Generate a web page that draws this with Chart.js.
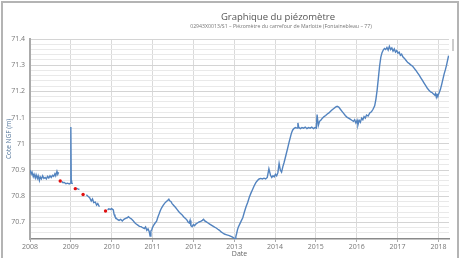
<!DOCTYPE html>
<html lang="fr">
<head>
<meta charset="utf-8">
<title>Graphique du piézomètre</title>
<script src="https://cdn.jsdelivr.net/npm/chart.js@4.4.1/dist/chart.umd.min.js"></script>
<style>
  html, body { margin: 0; padding: 0; background: #fff; }
  #wrap { position: relative; width: 464px; height: 258px; overflow: hidden; font-family: "Open Sans", sans-serif; }
  #cadre { position: absolute; left: 1px; top: 1px; width: 454px; height: 270px; border: 2px solid #b4b4b4; pointer-events: none; }
  #titre { position: absolute; left: 128px; width: 300px; top: 10px; text-align: center; font-size: 9.5px; color: #555; }
  #sous-titre { position: absolute; left: 128px; width: 306px; top: 22px; text-align: center; font-size: 5.2px; color: #777; }
  #barre { position: absolute; left: 452px; top: 39px; width: 2px; height: 12px; background: #ccc; }
  canvas { position: absolute; left: 0; top: 0; }
</style>
</head>
<body>
<div id="wrap">
  <canvas id="piezo" width="464" height="258"></canvas>
  <div id="titre">Graphique du piézomètre</div>
  <div id="sous-titre">02943X0013/S1 – Piézomètre du carrefour de Marlotte (Fontainebleau – 77)</div>
  <div id="barre"></div>
  <div id="cadre"></div>
</div>
<script>
// Chroniques (année décimale / cote NGF en m)
const annees = [
  2008.00, 2008.03, 2008.05, 2008.08, 2008.10, 2008.13, 2008.15, 2008.18, 2008.20, 2008.23,
  2008.25, 2008.28, 2008.31, 2008.34, 2008.37, 2008.40, 2008.43, 2008.46, 2008.49, 2008.52,
  2008.55, 2008.58, 2008.61, 2008.63, 2008.66, 2008.68, 2008.70, 2008.73,
  2008.78, 2008.81, 2008.84, 2008.88, 2008.92, 2008.96, 2008.99, 2009.00, 2009.01, 2009.02, 2009.05, 2009.08,
  2009.14, 2009.17, 2009.21, 2009.25,
  2009.38, 2009.42, 2009.46, 2009.50, 2009.53, 2009.56, 2009.60, 2009.63, 2009.66, 2009.70, 2009.75,
  2009.90, 2009.93, 2009.97, 2010.00, 2010.04, 2010.06, 2010.08, 2010.11, 2010.14, 2010.18,
  2010.22, 2010.26, 2010.30, 2010.34, 2010.38, 2010.41, 2010.44, 2010.48, 2010.52, 2010.56,
  2010.60, 2010.64, 2010.68, 2010.72, 2010.76, 2010.80, 2010.83, 2010.86, 2010.89, 2010.92,
  2010.94, 2010.96, 2010.98, 2011.00, 2011.03, 2011.06, 2011.10, 2011.13, 2011.16, 2011.19,
  2011.22, 2011.26, 2011.30, 2011.34, 2011.37, 2011.40, 2011.42, 2011.45, 2011.48, 2011.52,
  2011.56, 2011.60, 2011.64, 2011.68, 2011.72, 2011.76, 2011.80, 2011.84, 2011.87, 2011.90,
  2011.92, 2011.94, 2011.97, 2012.00, 2012.03, 2012.06, 2012.10, 2012.14, 2012.18, 2012.22,
  2012.25, 2012.28, 2012.32, 2012.36, 2012.40, 2012.44, 2012.48, 2012.52, 2012.56, 2012.60,
  2012.64, 2012.68, 2012.72, 2012.76, 2012.80, 2012.84, 2012.88, 2012.92, 2012.96, 2013.00,
  2013.02, 2013.04, 2013.06, 2013.08, 2013.10, 2013.13, 2013.17, 2013.21, 2013.25, 2013.29,
  2013.33, 2013.37, 2013.41, 2013.45, 2013.49, 2013.53, 2013.57, 2013.61, 2013.65, 2013.69,
  2013.73, 2013.77, 2013.81, 2013.85, 2013.89, 2013.92, 2013.95, 2013.98, 2014.01, 2014.04,
  2014.07, 2014.10, 2014.13, 2014.16, 2014.19, 2014.22, 2014.25, 2014.28, 2014.31, 2014.34,
  2014.37, 2014.40, 2014.43, 2014.46, 2014.50, 2014.54, 2014.56, 2014.58, 2014.62, 2014.66,
  2014.70, 2014.74, 2014.78, 2014.82, 2014.86, 2014.90, 2014.94, 2014.98, 2015.01, 2015.03,
  2015.06, 2015.09, 2015.12, 2015.16, 2015.20, 2015.24, 2015.28, 2015.32, 2015.36, 2015.40,
  2015.44, 2015.48, 2015.52, 2015.56, 2015.60, 2015.64, 2015.68, 2015.72, 2015.76, 2015.80,
  2015.84, 2015.88, 2015.92, 2015.95, 2015.98, 2016.01, 2016.03, 2016.06, 2016.09, 2016.12,
  2016.15, 2016.18, 2016.21, 2016.24, 2016.28, 2016.32, 2016.36, 2016.40, 2016.44, 2016.47,
  2016.50, 2016.53, 2016.56, 2016.59, 2016.62, 2016.65, 2016.68, 2016.71, 2016.74, 2016.77,
  2016.80, 2016.83, 2016.86, 2016.89, 2016.92, 2016.95, 2016.98, 2017.01, 2017.04, 2017.07,
  2017.10, 2017.13, 2017.17, 2017.21, 2017.25, 2017.29, 2017.33, 2017.37, 2017.41, 2017.45,
  2017.49, 2017.53, 2017.57, 2017.61, 2017.65, 2017.69, 2017.73, 2017.77, 2017.81, 2017.85,
  2017.88, 2017.91, 2017.93, 2017.95, 2017.97, 2017.99, 2018.02, 2018.05, 2018.08, 2018.11,
  2018.14, 2018.17, 2018.20, 2018.23, 2018.25
];
const niveaux = [
  70.900, 70.885, 70.892, 70.875, 70.884, 70.870, 70.882, 70.868, 70.878, 70.860,
  70.874, 70.866, 70.878, 70.868, 70.872, 70.866, 70.876, 70.870, 70.878, 70.872,
  70.880, 70.876, 70.886, 70.878, 70.895, 70.884, 70.892, null,
  70.856, 70.852, 70.853, 70.848, 70.850, 70.847, 70.850, 71.064, 70.860, 70.850, 70.848, null,
  70.830, 70.828, 70.826, null,
  70.806, 70.800, 70.795, 70.782, 70.790, 70.776, 70.778, 70.766, 70.772, 70.760, null,
  70.748, 70.752, 70.750, 70.753, 70.748, 70.730, 70.723, 70.716, 70.712, 70.708,
  70.712, 70.706, 70.712, 70.716, 70.718, 70.722, 70.718, 70.714, 70.708, 70.700,
  70.694, 70.690, 70.685, 70.684, 70.680, 70.677, 70.683, 70.670, 70.676, 70.665,
  70.648, 70.668, 70.672, 70.681, 70.690, 70.697, 70.705, 70.720, 70.732, 70.745,
  70.755, 70.765, 70.774, 70.780, 70.784, 70.789, 70.783, 70.780, 70.772, 70.765,
  70.758, 70.750, 70.742, 70.735, 70.730, 70.722, 70.716, 70.710, 70.702, 70.698,
  70.708, 70.688, 70.684, 70.692, 70.688, 70.694, 70.698, 70.702, 70.704, 70.708,
  70.712, 70.706, 70.702, 70.698, 70.694, 70.690, 70.686, 70.682, 70.679, 70.674,
  70.670, 70.664, 70.660, 70.656, 70.654, 70.652, 70.650, 70.647, 70.644, 70.640,
  70.636, 70.646, 70.658, 70.672, 70.682, 70.692, 70.705, 70.718, 70.740, 70.760,
  70.776, 70.796, 70.812, 70.826, 70.840, 70.852, 70.860, 70.866, 70.868, 70.866,
  70.869, 70.866, 70.872, 70.905, 70.880, 70.872, 70.878, 70.874, 70.884, 70.878,
  70.890, 70.925, 70.900, 70.892, 70.912, 70.928, 70.946, 70.965, 70.984, 71.004,
  71.022, 71.040, 71.052, 71.058, 71.062, 71.060, 71.080, 71.063, 71.058, 71.062,
  71.060, 71.064, 71.058, 71.062, 71.060, 71.064, 71.058, 71.062, 71.060, 71.112,
  71.070, 71.086, 71.090, 71.098, 71.104, 71.108, 71.114, 71.118, 71.124, 71.130,
  71.135, 71.140, 71.143, 71.140, 71.132, 71.124, 71.116, 71.108, 71.102, 71.098,
  71.094, 71.090, 71.086, 71.092, 71.080, 71.090, 71.072, 71.090, 71.082, 71.098,
  71.092, 71.104, 71.098, 71.110, 71.106, 71.118, 71.122, 71.132, 71.145, 71.170,
  71.205, 71.250, 71.296, 71.330, 71.348, 71.358, 71.364, 71.360, 71.368, 71.358,
  71.372, 71.360, 71.366, 71.354, 71.362, 71.350, 71.356, 71.346, 71.350, 71.338,
  71.342, 71.332, 71.326, 71.318, 71.310, 71.306, 71.300, 71.296, 71.288, 71.280,
  71.271, 71.262, 71.252, 71.242, 71.232, 71.222, 71.212, 71.204, 71.198, 71.195,
  71.190, 71.186, 71.192, 71.178, 71.188, 71.184, 71.195, 71.208, 71.226, 71.246,
  71.266, 71.282, 71.300, 71.322, 71.336
];
// Relevés manuels (points rouges)
const relevesAnnees = [2008.74, 2009.11, 2009.30, 2009.85];
const relevesNiveaux = [70.858, 70.829, 70.807, 70.744];

// Axes
const anneesTicks = [2008, 2009, 2010, 2011, 2012, 2013, 2014, 2015, 2016, 2017, 2018];
const cotesTicks = [70.7, 70.8, 70.9, 71.0, 71.1, 71.2, 71.3, 71.4];
const cotesGrille = [];
for (let v = 70.64; v <= 71.401; v += 0.02) cotesGrille.push(Math.round(v * 100) / 100);

function estMajeur(v) {
  return cotesTicks.some(t => Math.abs(t - v) < 1e-6);
}

const serie = annees.map((a, i) => ({ x: a, y: niveaux[i] }));
const releves = relevesAnnees.map((a, i) => ({ x: a, y: relevesNiveaux[i] }));

const police = { family: '"Open Sans", sans-serif', size: 7 };

new Chart(document.getElementById('piezo'), {
  type: 'line',
  data: {
    datasets: [
      { label: 'Piézomètre', data: serie, borderColor: '#5283bf', borderWidth: 1.4, pointRadius: 0, tension: 0, spanGaps: false, order: 2 },
      { label: 'Relevés', data: releves, showLine: false, pointRadius: 1.7, pointBackgroundColor: '#e01010', pointBorderWidth: 0, order: 1 }
    ]
  },
  options: {
    responsive: false,
    animation: false,
    events: [],
    layout: { padding: { left: 5, right: 15, top: 39, bottom: 0 } },
    plugins: { legend: { display: false }, tooltip: { enabled: false } },
    scales: {
      x: {
        type: 'linear',
        min: 2008,
        max: 2018.26,
        afterBuildTicks: s => { s.ticks = anneesTicks.map(v => ({ value: v })); },
        afterFit: s => { s.height = 19; },
        grid: { color: '#dadada', lineWidth: 1, tickLength: 3, tickColor: '#aaa' },
        border: { color: '#8a8a8a', width: 1.5 },
        ticks: { autoSkip: false, maxRotation: 0, padding: 1, color: '#777', font: police, callback: v => String(v) },
        title: { display: true, text: 'Date', color: '#666', font: police, padding: 0 }
      },
      y: {
        type: 'linear',
        min: 70.637,
        max: 71.4,
        afterBuildTicks: s => { s.ticks = cotesGrille.map(v => ({ value: v })); },
        afterFit: s => { s.width = 25; },
        grid: {
          drawTicks: false,
          color: c => estMajeur(c.tick.value) ? '#d4d4d4' : '#e9e9e9',
          lineWidth: 1
        },
        border: { color: '#aaaaaa', width: 2 },
        ticks: {
          autoSkip: false,
          padding: 5,
          color: '#777',
          font: police,
          callback: v => estMajeur(v) ? String(Math.round(v * 10) / 10) : ''
        },
        title: { display: true, text: 'Cote NGF (m)', color: '#56789c', font: { family: '"Open Sans", sans-serif', size: 6.5 }, padding: 0 }
      }
    }
  }
});
</script>
</body>
</html>
